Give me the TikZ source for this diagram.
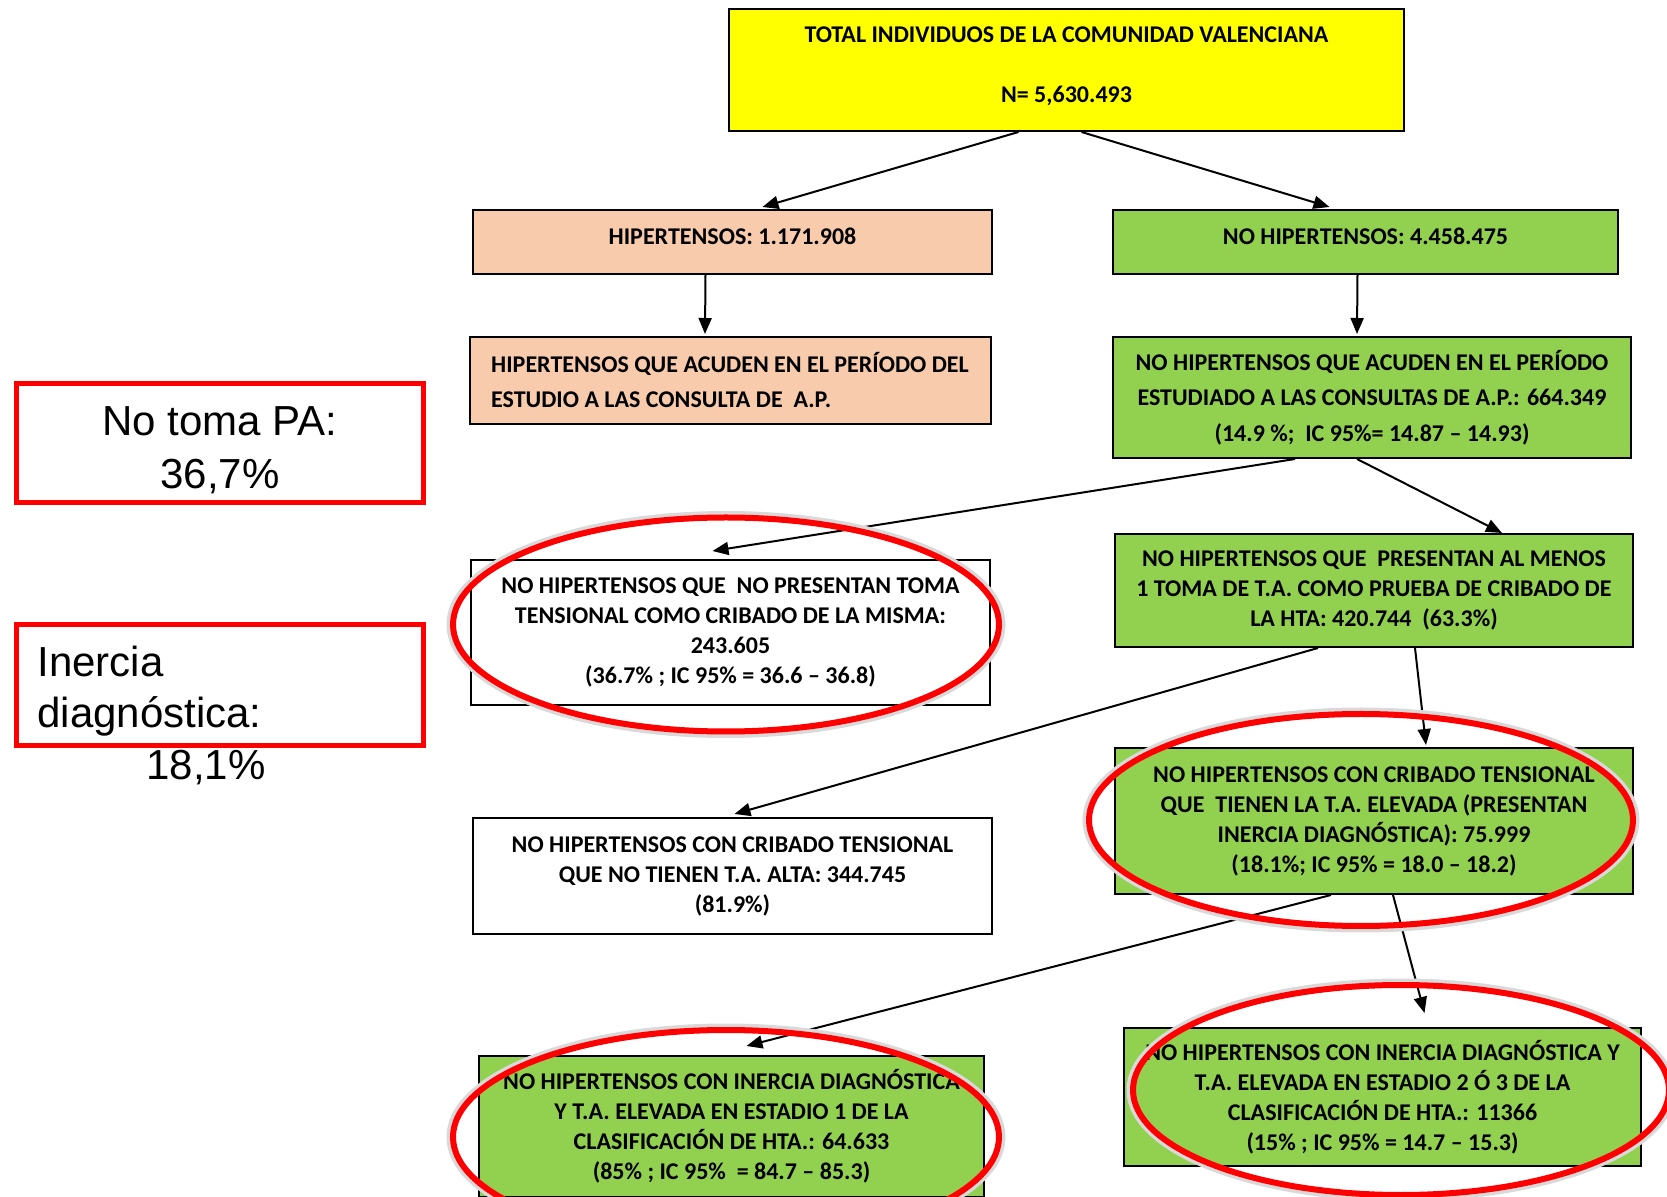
\documentclass[tikz,border=0pt]{standalone}
\usepackage{fontspec}
\setmainfont{Carlito}
\newfontfamily\arialfont{Liberation Sans}
\usetikzlibrary{arrows.meta,calc}

\definecolor{amarillo}{RGB}{255,255,0}
\definecolor{salmon}{RGB}{248,203,173}
\definecolor{verde}{RGB}{146,208,80}
\definecolor{rojo}{RGB}{255,0,0}

\begin{document}
\begin{tikzpicture}[x=0.5pt,y=-0.5pt,
  caja/.style={draw,line width=1pt,align=center,inner sep=0pt,
    font=\bfseries\fontsize{12}{15}\selectfont},
  flecha/.style={-{Triangle[length=8pt,width=6.5pt]},line width=1pt},
  marca/.style={draw=rojo,line width=2.5pt,inner sep=0pt},
  halo/.style={draw=gray!30,line width=4.5pt},
  circulo/.style={draw=rojo,line width=3pt},
  nota/.style={inner sep=0pt,font=\arialfont\fontsize{21}{26.5}\selectfont}]

\useasboundingbox (0,0) rectangle (1667,1197); %% page size

%% boxes of the tree
\node[caja,fill=amarillo,minimum width=337.5pt,minimum height=61pt,text depth=5pt] (total)
  at (1066.5,70) {TOTAL INDIVIDUOS DE LA COMUNIDAD VALENCIANA\\[15pt]N= 5,630.493};

\node[caja,fill=salmon,minimum width=259.5pt,minimum height=32pt,text depth=5.5pt] (hip)
  at (732.5,242) {HIPERTENSOS: 1.171.908};
\node[caja,fill=verde,minimum width=252.5pt,minimum height=32pt,text depth=5.5pt] (nohip)
  at (1365.5,242) {NO HIPERTENSOS: 4.458.475};

\node[caja,fill=salmon,align=left,minimum width=260.5pt,minimum height=43.5pt,
  font=\bfseries\fontsize{12}{17.5}\selectfont] (hipac)
  at (730,380.5) {HIPERTENSOS QUE ACUDEN EN EL PERÍODO DEL\\ESTUDIO A LAS CONSULTA DE\ \ A.P.};
\node[caja,fill=verde,minimum width=259pt,minimum height=60.5pt,
  font=\bfseries\fontsize{12}{17.75}\selectfont] (nohipac)
  at (1372,397.5) {NO HIPERTENSOS QUE ACUDEN EN EL PERÍODO\\ESTUDIADO A LAS CONSULTAS DE A.P.: 664.349\\(14.9 \%;\ \ IC 95\%= 14.87 -- 14.93)};

\node[caja,fill=white,minimum width=259.5pt,minimum height=72.5pt] (notoma)
  at (730.5,632.5) {NO HIPERTENSOS QUE\ \ NO PRESENTAN TOMA\\TENSIONAL COMO CRIBADO DE LA MISMA:\\243.605\\(36.7\% ; IC 95\% = 36.6 -- 36.8)};
\node[caja,fill=verde,minimum width=259pt,minimum height=56.5pt] (cribado)
  at (1374,590.5) {NO HIPERTENSOS QUE\ \ PRESENTAN AL MENOS\\1 TOMA DE T.A. COMO PRUEBA DE CRIBADO DE\\LA HTA: 420.744\ \ (63.3\%)};

\node[caja,fill=white,minimum width=259.5pt,minimum height=58pt] (noalta)
  at (732.5,876) {NO HIPERTENSOS CON CRIBADO TENSIONAL\\QUE NO TIENEN T.A. ALTA: 344.745\\(81.9\%)};
\node[caja,fill=verde,minimum width=259pt,minimum height=73pt] (elevada)
  at (1374,821) {NO HIPERTENSOS CON CRIBADO TENSIONAL\\QUE\ \ TIENEN LA T.A. ELEVADA (PRESENTAN\\INERCIA DIAGNÓSTICA): 75.999\\(18.1\%; IC 95\% = 18.0 -- 18.2)};

\node[caja,fill=verde,minimum width=252.5pt,minimum height=70.5pt] (estadio1)
  at (731.5,1126.5) {NO HIPERTENSOS CON INERCIA DIAGNÓSTICA\\Y T.A. ELEVADA EN ESTADIO 1 DE LA\\CLASIFICACIÓN DE HTA.: 64.633\\(85\% ; IC 95\%\ \ = 84.7 -- 85.3)};
\node[caja,fill=verde,minimum width=258.5pt,minimum height=69pt] (estadio23)
  at (1382.5,1097) {NO HIPERTENSOS CON INERCIA DIAGNÓSTICA Y\\T.A. ELEVADA EN ESTADIO 2 Ó 3 DE LA\\CLASIFICACIÓN DE HTA.: 11366\\(15\% ; IC 95\% = 14.7 -- 15.3)};

%% arrows
\draw[flecha] ($(total.south)+(-48,0)$) -- ($(hip.north)+(30,-2)$);
\draw[flecha] ($(total.south)+(15,0)$) -- ($(nohip.north)+(-36,-2)$);
\draw[flecha] ($(hip.south)+(-27,0)$) -- ($(hipac.north)+(-25,-2)$);
\draw[flecha] ($(nohip.south)+(-8,0)$) -- ($(nohipac.north)+(-15,-2)$);
\draw[flecha] ($(nohipac.south)+(-77,0)$) -- ($(notoma.north)+(-18,-8)$);
\draw[flecha] ($(nohipac.south)+(-15,0)$) -- ($(cribado.north)+(128,0)$);
\draw[flecha] ($(cribado.south)+(-56,0)$) -- ($(noalta.north)+(2,-3)$);
\draw[flecha] ($(cribado.south)+(41,0)$) -- ($(elevada.north)+(52,-2)$);
\draw[flecha] ($(elevada.south)+(-43,0)$) -- ($(estadio1.north)+(15,-9)$);
\draw[flecha] ($(elevada.south)+(19,0)$) -- ($(estadio23.north)+(42,-14)$);

%% red ellipses
\foreach \cx/\cy/\rx/\ry in {726/624.5/136.5/53.5, 1361/820/136/53,
                              726/1137/136.5/53.5, 1401/1090/134/52.5}{
  \draw[halo] (\cx,\cy) ellipse [x radius=\rx pt+1pt, y radius=\ry pt+1pt];
  \draw[circulo] (\cx,\cy) ellipse [x radius=\rx pt, y radius=\ry pt];
}

%% notes on the left
\node[marca,minimum width=203.5pt,minimum height=59.5pt] (notomapa) at (220,443) {};
\node[nota,align=center] (notomatxt) at (220,450) {No toma PA:\\36,7\%};

\node[marca,minimum width=203.5pt,minimum height=60.5pt] (inercia) at (220,685) {};
\node[nota,anchor=base west] (inercia1) at (37,677) {Inercia};
\node[nota,anchor=base west] (inercia2) at (37,728) {diagnóstica:};
\node[nota,anchor=base] (inercia3) at (206,780) {18,1\%};

\end{tikzpicture}
\end{document}
